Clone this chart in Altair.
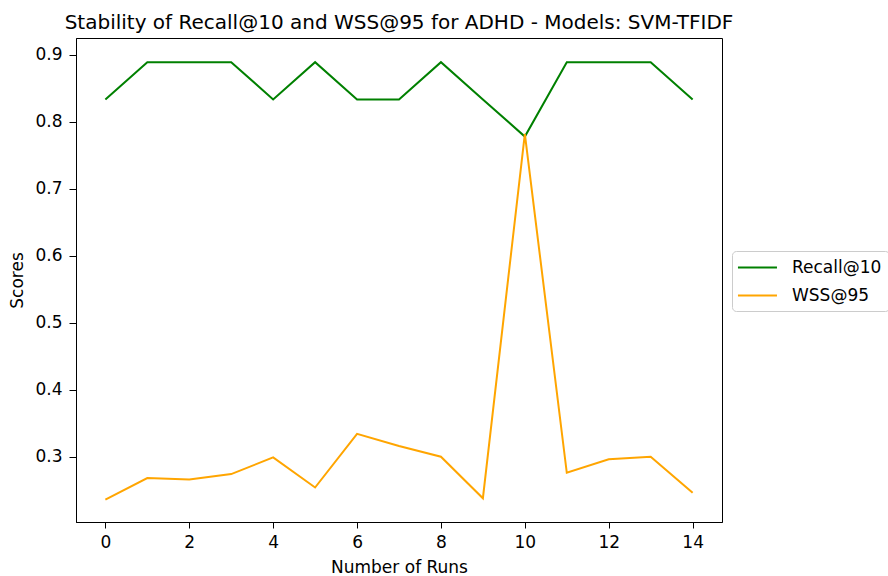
import altair as alt
import pandas as pd

runs = list(range(15))
recall = [0.8333, 0.8889, 0.8889, 0.8889, 0.8333, 0.8889, 0.8333, 0.8333, 0.8889, 0.8333,
          0.7778, 0.8889, 0.8889, 0.8889, 0.8333]
wss = [0.236, 0.268, 0.266, 0.274, 0.299, 0.254, 0.334, 0.316, 0.300, 0.238,
       0.782, 0.276, 0.296, 0.300, 0.246]
series = ["Recall@10", "WSS@95"]
colors = ["#008000", "#FFA500"]

rows = []
for i, r in enumerate(runs):
    rows.append({"run": r, "score": recall[i], "metric": series[0]})
    rows.append({"run": r, "score": wss[i], "metric": series[1]})
df = pd.DataFrame(rows)

FONT = "DejaVu Sans"
LFS = 17

chart = alt.Chart(df).mark_line(strokeWidth=2).encode(
    x=alt.X("run:Q", title="Number of Runs",
            scale=alt.Scale(domain=[-0.7, 14.7], nice=False, zero=False),
            axis=alt.Axis(values=[0, 2, 4, 6, 8, 10, 12, 14], format="d", grid=False,
                          tickColor="black", domainColor="black", tickSize=6,
                          labelFontSize=LFS, titleFontSize=LFS, labelColor="black",
                          titleColor="black", titleFontWeight="normal", labelPadding=6,
                          titlePadding=9, labelFont=FONT, titleFont=FONT)),
    y=alt.Y("score:Q", title="Scores",
            scale=alt.Scale(domain=[0.2025, 0.925], nice=False, zero=False),
            axis=alt.Axis(values=[0.3, 0.4, 0.5, 0.6, 0.7, 0.8, 0.9], format=".1f", grid=False,
                          tickColor="black", domainColor="black", tickSize=7,
                          labelFontSize=LFS, titleFontSize=LFS, labelColor="black",
                          titleColor="black", titleFontWeight="normal", labelPadding=7,
                          titlePadding=8, labelFont=FONT, titleFont=FONT)),
    color=alt.Color("metric:N", scale=alt.Scale(domain=series, range=colors),
                    legend=alt.Legend(title=None, orient="none", legendX=656, legendY=213,
                                      symbolType="M-1.24,0L3.35,0", symbolSize=289,
                                      symbolStrokeWidth=2,
                                      labelFontSize=LFS, labelFont=FONT, labelColor="black",
                                      strokeColor="#cccccc", cornerRadius=4, padding=7,
                                      fillColor="white", rowPadding=10, labelOffset=34)),
    order="run:Q",
).properties(
    width=646, height=484,
    title=alt.TitleParams("Stability of Recall@10 and WSS@95 for ADHD - Models: SVM-TFIDF",
                          fontSize=20, font=FONT, fontWeight="normal", color="black",
                          anchor="middle", offset=5),
    autosize=alt.AutoSizeParams(type="none"),
    padding={"left": 76, "top": 38, "right": 166, "bottom": 54},
).configure_view(stroke="black", strokeWidth=1)

chart.save("out.html", embed_options={"renderer": "svg", "actions": False})
